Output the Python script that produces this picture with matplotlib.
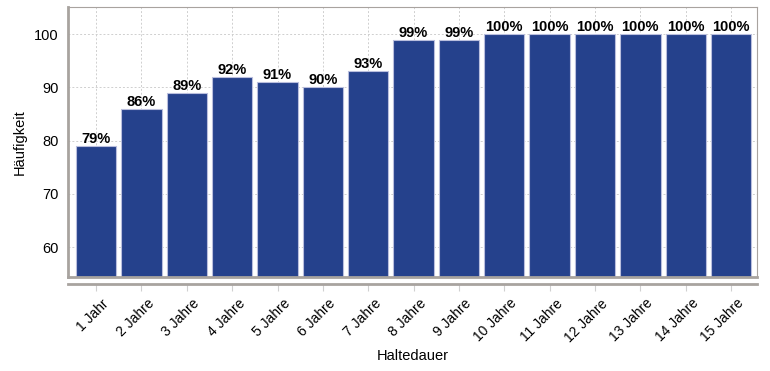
import matplotlib.pyplot as plt
import matplotlib.transforms as mtransforms
from matplotlib.lines import Line2D

plt.rcParams['font.family'] = ['Liberation Sans', 'DejaVu Sans']

# data
kategorien = ["1 Jahr", "2 Jahre", "3 Jahre", "4 Jahre", "5 Jahre", "6 Jahre", "7 Jahre",
              "8 Jahre", "9 Jahre", "10 Jahre", "11 Jahre", "12 Jahre", "13 Jahre",
              "14 Jahre", "15 Jahre"]
haeufigkeit = [79, 86, 89, 92, 91, 90, 93, 99, 99, 100, 100, 100, 100, 100, 100]
y_ticks = [60, 70, 80, 90, 100]

bar_color = '#25418C'
frame_color = '#A8A39F'

fig = plt.figure(figsize=(7.7, 3.71), dpi=100)
ax = fig.add_axes([0.0883, 0.2534, 0.8947, 0.7276])

# frame (spine position first: it resets the ticks)
ax.spines['bottom'].set_position(('outward', 5))
ax.spines['top'].set_color(frame_color)
ax.spines['top'].set_linewidth(0.8)
ax.spines['right'].set_color(frame_color)
ax.spines['right'].set_linewidth(0.8)
ax.spines['left'].set_color(frame_color)
ax.spines['left'].set_linewidth(2)
ax.spines['bottom'].set_color(frame_color)
ax.spines['bottom'].set_linewidth(2)
ax.add_line(Line2D([0, 1], [0, 0], transform=ax.transAxes, color=frame_color,
                   linewidth=2, clip_on=False, zorder=4))

x = list(range(len(kategorien)))
bars = ax.bar(x, haeufigkeit, width=0.89, color=bar_color,
              edgecolor='#B9BEDD', linewidth=0.8, zorder=2)

for xi, v in zip(x, haeufigkeit):
    ax.text(xi, v, f"{v}%", ha='center', va='bottom', fontsize=10.5,
            fontweight='bold', zorder=3)

ax.set_xlim(-0.62, 14.57)
ax.set_ylim(54.4, 105.1)
ax.set_yticks(y_ticks)
ax.set_xticks(x)
ax.set_xticklabels(kategorien, rotation=45, ha='right', rotation_mode='anchor',
                   fontsize=10)
ax.tick_params(axis='y', length=0, pad=7, labelsize=10.5)
ax.tick_params(axis='x', length=5, color='#D0D0D0', pad=4)

# labels sit slightly right of the tick
shift = mtransforms.ScaledTranslation(4 / 72, 0, fig.dpi_scale_trans)
for lbl in ax.get_xticklabels():
    lbl.set_transform(lbl.get_transform() + shift)

ax.grid(True, linestyle=(0, (2, 2)), color='#CFCFCF', linewidth=0.7, zorder=0)
ax.set_axisbelow(True)

ax.set_ylabel("Häufigkeit", fontsize=10.5, labelpad=5)
ax.set_xlabel("Haltedauer", fontsize=10.5, labelpad=3)

fig.savefig('out.png', dpi=100)
